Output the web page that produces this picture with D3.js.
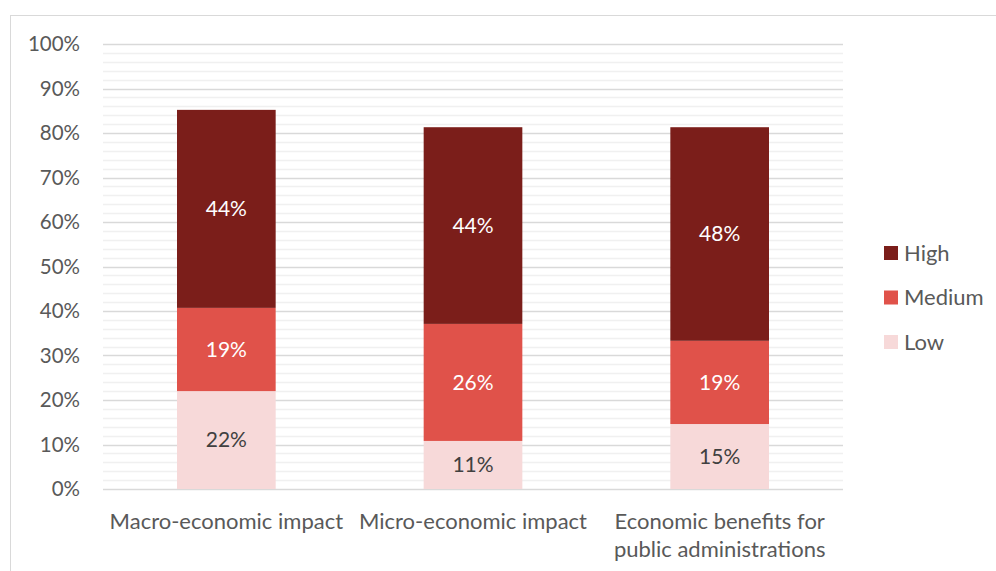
<!DOCTYPE html>
<html><head><meta charset="utf-8">
<script src="https://cdn.jsdelivr.net/npm/d3@7"></script>
<style>body{margin:0;background:#fff}svg{display:block}text{font-family:Lato,"Open Sans",sans-serif}</style>
</head><body><svg id="c" width="996" height="571"></svg>
<script>
const categories = [["Macro-economic impact"], ["Micro-economic impact"], ["Economic benefits for", "public administrations"]];
const seriesNames = ["Low", "Medium", "High"];
const low = [22, 11, 15];
const medium = [19, 26, 19];
const high = [44, 44, 48];
const lowH = [22.0, 10.8, 14.6];
const mediumH = [18.7, 26.3, 18.7];
const highH = [44.5, 44.2, 48.0];
const yTicks = [0,10,20,30,40,50,60,70,80,90,100];
const colors = {Low:"#F7D9D9", Medium:"#E0524A", High:"#7B1E1A"};

const svg = d3.select("#c");
svg.append("rect").attr("x",10.5).attr("y",15.5).attr("width",1000).attr("height",600).attr("fill","none").attr("stroke","#d9d9d9");

const x = d3.scaleBand().domain(d3.range(3)).range([103,843]).paddingInner(0.6).paddingOuter(0.3);
const y = d3.scaleLinear().domain([0,100]).range([489,44]);

const g = svg.append("g");
d3.range(0,101,2).filter(v=>v%10!==0).forEach(v=>{
  g.append("line").attr("x1",103).attr("x2",843).attr("y1",Math.round(y(v))+0.5).attr("y2",Math.round(y(v))+0.5).attr("stroke","#f0f0f0").attr("stroke-width",1.5);
});
yTicks.forEach(v=>{
  g.append("line").attr("x1",103).attr("x2",843).attr("y1",Math.round(y(v))+0.5).attr("y2",Math.round(y(v))+0.5).attr("stroke","#d9d9d9").attr("stroke-width",1.5);
});
const yAxis = d3.axisLeft(y).tickValues(yTicks).tickFormat(d=>d+"%").tickSize(0).tickPadding(0);
const ya = svg.append("g").attr("transform","translate(80,0)").call(yAxis);
ya.select(".domain").remove();
ya.selectAll("text").attr("font-size",20.5).attr("fill","#595959").style("font-family","Lato,'Open Sans',sans-serif");

const labels = {Low:low, Medium:medium, High:high};
const stackData = d3.range(3).map(i=>({i, Low:lowH[i], Medium:mediumH[i], High:highH[i]}));
const stack = d3.stack().keys(seriesNames)(stackData);
stack.forEach(s=>{
  const key = s.key;
  const gg = svg.append("g");
  gg.selectAll("rect").data(s).join("rect")
    .attr("x",(d,i)=>x(i)).attr("width",x.bandwidth())
    .attr("y",d=>y(d[1])).attr("height",d=>y(d[0])-y(d[1]))
    .attr("fill",colors[key]);
  gg.selectAll("text").data(s).join("text")
    .attr("x",(d,i)=>x(i)+x.bandwidth()/2)
    .attr("y",d=>(y(d[0])+y(d[1]))/2)
    .attr("dy","0.35em").attr("text-anchor","middle").attr("font-size",21)
    .attr("fill",key==="Low"?"#404040":"#ffffff")
    .text((d,i)=>labels[key][i]+"%");
});

categories.forEach((lines,i)=>{
  const t = svg.append("text").attr("text-anchor","middle").attr("font-size",22).attr("fill","#595959");
  lines.forEach((l,j)=>{
    t.append("tspan").attr("x",x(i)+x.bandwidth()/2).attr("y",529+j*28).text(l);
  });
});

const legendOrder = ["High","Medium","Low"];
legendOrder.forEach((k,j)=>{
  const ly = 253 + j*44.5;
  svg.append("rect").attr("x",884).attr("y",ly-7).attr("width",14).attr("height",14).attr("fill",colors[k]);
  svg.append("text").attr("x",904).attr("y",ly).attr("dy","0.35em").attr("font-size",22).attr("fill","#595959").text(k);
});
</script></body></html>
